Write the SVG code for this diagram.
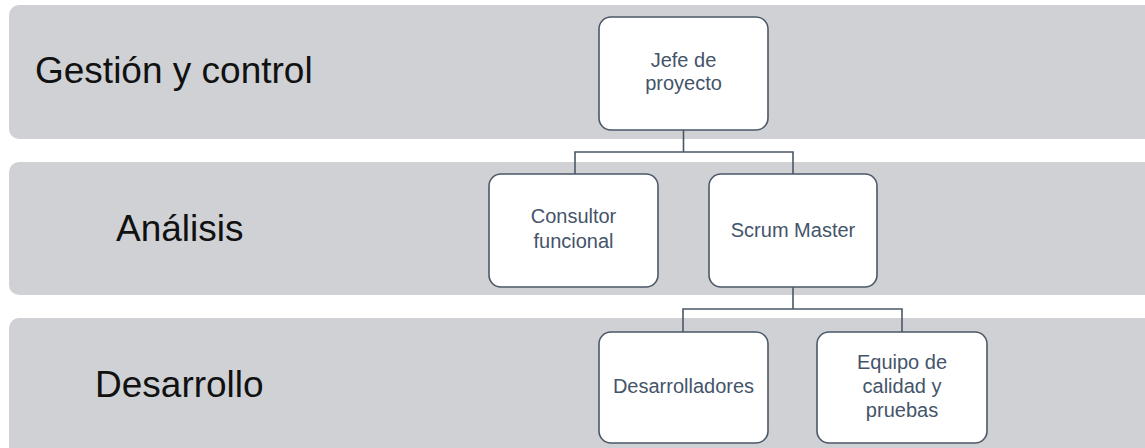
<svg xmlns="http://www.w3.org/2000/svg" width="1145" height="448" viewBox="0 0 1145 448">
<style>
.band{fill:#d0d1d5;}
.lab{font-family:"Liberation Sans",Arial,sans-serif;font-size:37px;fill:#111111;}
.box{fill:#ffffff;stroke:#4b5868;stroke-width:1.6;}
.nt{font-family:"Liberation Sans",Arial,sans-serif;font-size:20px;fill:#44546a;text-anchor:middle;}
.con{fill:none;stroke:#4b5868;stroke-width:1.6;}
</style>
<rect width="1145" height="448" fill="#ffffff"/>
<g id="band-gestion">
<rect class="band" x="9" y="5" width="1146" height="134" rx="10"/>
<text class="lab" x="35" y="83">Gestión y control</text>
</g>
<g id="band-analisis">
<rect class="band" x="9" y="162" width="1146" height="133" rx="10"/>
<text class="lab" x="116" y="241">Análisis</text>
</g>
<g id="band-desarrollo">
<rect class="band" x="9" y="318" width="1146" height="140" rx="10"/>
<text class="lab" x="95" y="397">Desarrollo</text>
</g>
<g id="connectors">
<path class="con" d="M683.5 130 V152 M575 174 V152 H793 V174"/>
<path class="con" d="M793 287 V309 M683 332 V309 H902 V332"/>
</g>
<g id="jefe">
<rect class="box" x="599" y="17" width="169" height="113" rx="12"/>
<text class="nt" x="683.5" y="67">Jefe de</text>
<text class="nt" x="683.5" y="90">proyecto</text>
</g>
<g id="consultor">
<rect class="box" x="489" y="174" width="169" height="113" rx="12"/>
<text class="nt" x="573.5" y="223">Consultor</text>
<text class="nt" x="573.5" y="248">funcional</text>
</g>
<g id="scrum">
<rect class="box" x="709" y="174" width="168" height="113" rx="12"/>
<text class="nt" x="793" y="237">Scrum Master</text>
</g>
<g id="desarrolladores">
<rect class="box" x="599" y="332" width="169" height="111" rx="12"/>
<text class="nt" x="683.5" y="393">Desarrolladores</text>
</g>
<g id="equipo">
<rect class="box" x="817" y="332" width="170" height="111" rx="12"/>
<text class="nt" x="902" y="369">Equipo de</text>
<text class="nt" x="902" y="393">calidad y</text>
<text class="nt" x="902" y="417">pruebas</text>
</g>
</svg>
